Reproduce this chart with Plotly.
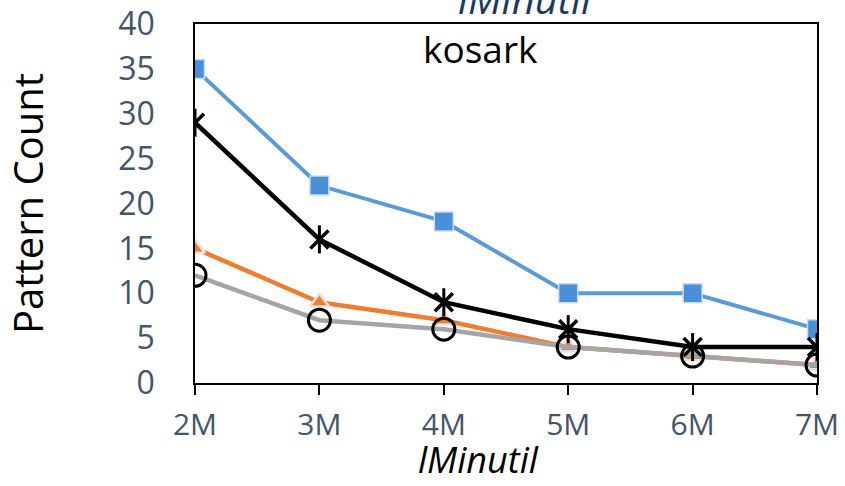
import plotly.graph_objects as go

categories = ["2M", "3M", "4M", "5M", "6M", "7M"]
series_blue = [35, 22, 18, 10, 10, 6]
series_orange = [15, 9, 7, 4, 3, 2]
series_gray = [12, 7, 6, 4, 3, 2]
series_black = [29, 16, 9, 6, 4, 4]
y_ticks = [0, 5, 10, 15, 20, 25, 30, 35, 40]

FONT = "Open Sans, Liberation Sans, sans-serif"
TICK_COLOR = "#44546A"

fig = go.Figure()
fig.add_trace(go.Scatter(
    x=categories, y=series_blue, mode="lines+markers",
    line=dict(color="#5B9BD5", width=4),
    marker=dict(symbol="square", size=19, color="#4A90D9",
                line=dict(color="#C9DDF2", width=1.5)),
))
fig.add_trace(go.Scatter(
    x=categories, y=series_orange, mode="lines+markers",
    line=dict(color="#ED7D31", width=4.5),
    marker=dict(symbol="triangle-up", size=17, color="#ED7D31",
                line=dict(color="#E3E3E3", width=2.5)),
))
fig.add_trace(go.Scatter(
    x=categories, y=series_gray, mode="lines+markers",
    line=dict(color="#A5A5A5", width=4.5),
    marker=dict(symbol="circle-open", size=22, color="#000000",
                line=dict(color="#000000", width=3)),
))
# black series: line with "x" markers, plus a vertical stroke to form a star
fig.add_trace(go.Scatter(
    x=categories, y=series_black, mode="lines+markers",
    line=dict(color="#000000", width=4.5),
    marker=dict(symbol="x-thin-open", size=18, color="#000000",
                line=dict(color="#000000", width=3.5)),
))
fig.add_trace(go.Scatter(
    x=categories, y=series_black, mode="markers",
    marker=dict(symbol="line-ns-open", size=20, color="#000000",
                line=dict(color="#000000", width=3)),
))

fig.update_layout(
    width=845, height=486,
    margin=dict(l=195, r=28, t=24, b=103),
    paper_bgcolor="white", plot_bgcolor="white",
    showlegend=False,
    font=dict(family=FONT),
    xaxis=dict(
        type="category", range=[0, 5], automargin=False,
        showline=True, linecolor="#000000", linewidth=2, mirror=True,
        showgrid=False, zeroline=False,
        ticks="outside", ticklen=10, tickwidth=2, tickcolor="#000000",
        tickfont=dict(size=30, color=TICK_COLOR),
        ticklabelstandoff=4,
    ),
    yaxis=dict(
        range=[0, 40], tickvals=y_ticks, automargin=False,
        showline=True, linecolor="#000000", linewidth=1.5, mirror=True,
        showgrid=False, zeroline=False,
        ticks="", tickfont=dict(size=32, color=TICK_COLOR),
        ticklabelstandoff=32,
        title=dict(text="Pattern Count", font=dict(size=40, color="#000000"), standoff=62),
    ),
    annotations=[
        dict(text="kosark", xref="paper", yref="paper", x=(480 - 195) / 622, y=1.0,
             yshift=-24, showarrow=False, font=dict(size=37, color="#000000"),
             xanchor="center", yanchor="middle"),
        dict(text="<i>lMinutil</i>", xref="paper", yref="paper", x=(525 - 195) / 622, y=1.0,
             yshift=26, showarrow=False, font=dict(size=40, color="#1F3864"),
             xanchor="center", yanchor="middle"),
        dict(text="<i>lMinutil</i>", xref="paper", yref="paper", x=(478 - 195) / 622, y=0.0,
             yshift=-103, showarrow=False, font=dict(size=36, color="#000000"),
             xanchor="center", yanchor="bottom"),
    ],
)

fig.write_html("out.html")
